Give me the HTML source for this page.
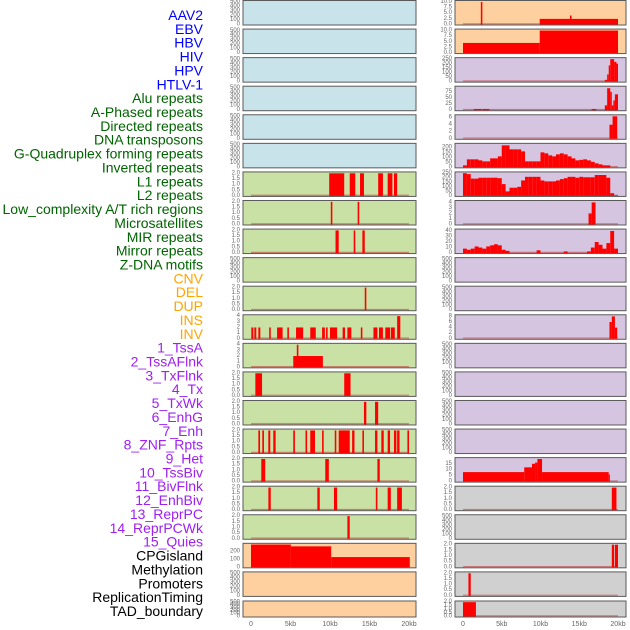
<!DOCTYPE html>
<html><head><meta charset="utf-8">
<style>
html,body{margin:0;padding:0;background:#fff;}
svg{display:block;font-family:"Liberation Sans",sans-serif;}
</style></head>
<body>
<svg id="chart" width="630" height="630" viewBox="0 0 630 630" xmlns="http://www.w3.org/2000/svg">
<g id="labels"></g>
<g id="panels"></g>
<g id="xaxes"></g>
</svg>
<script>
// ---- label data ----
const labelNames = ["AAV2","EBV","HBV","HIV","HPV","HTLV-1","Alu repeats","A-Phased repeats","Directed repeats","DNA transposons","G-Quadruplex forming repeats","Inverted repeats","L1 repeats","L2 repeats","Low_complexity A/T rich regions","Microsatellites","MIR repeats","Mirror repeats","Z-DNA motifs","CNV","DEL","DUP","INS","INV","1_TssA","2_TssAFlnk","3_TxFlnk","4_Tx","5_TxWk","6_EnhG","7_Enh","8_ZNF_Rpts","9_Het","10_TssBiv","11_BivFlnk","12_EnhBiv","13_ReprPC","14_ReprPCWk","15_Quies","CPGisland","Methylation","Promoters","ReplicationTiming","TAD_boundary"];
const labelGroups = [0,0,0,0,0,0,1,1,1,1,1,1,1,1,1,1,1,1,1,2,2,2,2,2,3,3,3,3,3,3,3,3,3,3,3,3,3,3,3,4,4,4,4,4];
const groupColors = ["#0000ff","#006400","#ffa500","#a020f0","#000000"];

// ---- x axis ----
const xTickKb = [0,5,10,15,20];
const xTickLabels = ["0","5kb","10kb","15kb","20kb"];

// ---- left column segments [startKb,endKb,value] ----
const L6 = [[9.9,11.8,2],[12.5,13.2,2],[13.8,14.3,2],[16.1,16.7,2],[17.3,17.9,2],[18.1,18.5,2]];
const L7 = [[10.1,10.3,2],[13.5,13.7,2]];
const L8 = [[10.7,11.1,2],[13.0,13.2,2],[14.1,14.4,2]];
const L10 = [[14.4,14.6,2]];
const L11 = [[0.04,0.3,2],[0.42,0.67,2],[0.93,1.18,2],[2.3,2.5,2],[3.3,4.0,2],[4.6,4.8,2],[5.7,6.6,2],[7.5,8.2,2],[9.0,9.35,2],[9.5,9.7,2],[10.0,10.9,2],[11.6,11.9,2],[12.2,12.7,2],[13.9,14.1,2],[15.5,16.0,2],[16.2,16.7,2],[17.0,17.6,2],[17.7,18.2,2],[18.5,18.9,4]];
const L12 = [[5.35,9.1,2],[5.8,6.0,4]];
const L13 = [[0.55,1.4,2],[11.8,12.6,2]];
const L14 = [[14.3,14.6,2],[15.7,16.1,2]];
const L15 = [[0.93,1.14,2],[1.43,1.64,2],[2.19,2.44,2],[2.82,3.12,2],[5.35,5.56,2],[6.9,7.1,2],[7.5,8.1,2],[9.0,9.2,2],[10.6,10.8,2],[11.1,12.5,2],[12.8,13.1,2],[14.1,14.3,2],[15.7,16.0,2],[16.5,16.8,2],[17.3,17.6,2],[18.1,18.4,2],[18.5,18.8,2],[19.8,20.0,2]];
const L16 = [[1.3,1.8,2],[9.4,9.85,2],[16.0,16.3,2]];
const L17 = [[2.2,2.5,2],[8.4,8.7,2],[10.5,10.9,2],[15.8,16.0,2],[17.3,17.7,2],[18.5,19.1,2]];
const L18 = [[12.2,12.5,2]];
const L19 = [[0,5.05,285],[5.05,10.15,262],[10.15,20.1,128]];

// ---- right column segments ----
const R0 = [[2.3,2.5,10],[9.9,20,2.5],[13.8,14.0,4]];
const R1 = [[0,9.9,4.5],[9.9,20,10]];
const R2 = [[18.3,18.6,20],[18.6,18.8,80],[18.8,19.0,180],[19.0,19.5,250],[19.5,19.8,220],[19.8,20,200]];
const R3 = [[1.4,2.4,5],[2.5,3.4,5],[16.6,17.2,5],[18.3,18.6,20],[18.6,19.0,90],[19.0,19.2,75],[19.2,19.4,20],[19.4,19.6,40],[19.6,20,65]];
const R4 = [[18.9,19.3,4],[19.3,19.9,6.4]];
const R7 = [[16.2,16.6,2],[16.6,17.1,4]];
const R11 = [[18.9,19.2,6],[19.2,19.6,8],[19.6,19.9,4]];
const R16 = [[0,7.9,8],[7.9,8.9,12],[8.9,9.3,15],[9.3,9.6,16],[9.6,10.2,19],[10.2,18.8,8],[18.8,18.95,6]];
const R17 = [[19.2,19.8,2]];
const R19 = [[19.2,19.5,2],[19.6,20,2]];
const R20 = [[0.7,1.0,2]];
const R21 = [[0,1.67,2]];
// binned (0.5 kb) curves
const R5bins = [20,80,80,80,70,60,60,90,90,110,220,220,180,180,180,160,60,60,60,60,150,140,120,110,130,140,130,110,90,70,75,80,70,55,40,30,20,20,0,0];
const R6bins = [250,240,190,190,200,200,200,200,200,195,130,50,90,90,100,170,210,210,210,210,170,160,160,160,170,185,195,210,210,200,210,205,205,205,230,230,230,200,30,5];
const R8bins = [8,6,8,12,10,8,12,14,16,14,6,4,0,0,0,0,0,0,0,5,0,0,0,0,0,0,3,0,0,0,0,0,3,10,20,15,8,18,40,8];

// ---- tick sets ----
const tEmpty = [0,100,200,300,400,500];
const tTwo = [0,0.5,1,1.5,2];
const tFour = [0,1,2,3,4];
const tTen = [0,2.5,5,7.5,10];

function binsToSegs(b){ return b.map(function(v,i){return [i*0.5,i*0.5+0.5,v];}); }

// [segments, ymax, ticks, decimals, bgColor]
const leftCols = ["#c8e4ea","#c8e4ea","#c8e4ea","#c8e4ea","#c8e4ea","#c8e4ea","#c9e1a4","#c9e1a4","#c9e1a4","#c9e1a4","#c9e1a4","#c9e1a4","#c9e1a4","#c9e1a4","#c9e1a4","#c9e1a4","#c9e1a4","#c9e1a4","#c9e1a4","#ffd09f","#ffd09f","#ffd09f"];
const rightCols = ["#ffd09f","#ffd09f","#d6c5e1","#d6c5e1","#d6c5e1","#d6c5e1","#d6c5e1","#d6c5e1","#d6c5e1","#d6c5e1","#d6c5e1","#d6c5e1","#d6c5e1","#d6c5e1","#d6c5e1","#d6c5e1","#d6c5e1","#d0d0d0","#d0d0d0","#d0d0d0","#d0d0d0","#d0d0d0"];
const leftPanels = [
 [[],520,tEmpty,0],[[],520,tEmpty,0],[[],520,tEmpty,0],[[],520,tEmpty,0],[[],520,tEmpty,0],[[],520,tEmpty,0],
 [L6,2.05,tTwo,1],[L7,2.05,tTwo,1],[L8,2.05,tTwo,1],[[],520,tEmpty,0],[L10,2.05,tTwo,1],[L11,4.1,tFour,0],
 [L12,4.1,tFour,0],[L13,2.05,tTwo,1],[L14,2.05,tTwo,1],[L15,2.05,tTwo,1],[L16,2.05,tTwo,1],[L17,2.05,tTwo,1],
 [L18,2.05,tTwo,1],[L19,290,[0,100,200],0],[[],520,tEmpty,0],[[],520,tEmpty,0]
];
const rightPanels = [
 [R0,10.3,tTen,1],[R1,10.3,tTen,1],[R2,258,[0,50,100,150,200,250],0],[R3,95,[0,25,50,75],0],[R4,6.6,[0,2,4,6],0],
 [binsToSegs(R5bins),232,[0,50,100,150,200],0],[binsToSegs(R6bins),255,[0,50,100,150,200,250],0],[R7,4.2,tFour,0],
 [binsToSegs(R8bins),42,[0,10,20,30,40],0],[[],520,tEmpty,0],[[],520,tEmpty,0],[R11,8.3,[0,2,4,6,8],0],
 [[],520,tEmpty,0],[[],520,tEmpty,0],[[],520,tEmpty,0],[[],520,tEmpty,0],[R16,19.5,[0,5,10,15],0],
 [R17,2.05,tTwo,1],[[],520,tEmpty,0],[R19,2.05,tTwo,1],[R20,2.05,tTwo,1],[R21,2.05,tTwo,1]
];

const NS = "http://www.w3.org/2000/svg";
function mk(tag, attrs, parent){ const e=document.createElementNS(NS,tag); for(const k in attrs) e.setAttribute(k,attrs[k]); parent.appendChild(e); return e; }

// labels
const gL = document.getElementById("labels");
labelNames.forEach(function(n,i){
  const t = mk("text",{x:203,y:15+i*13.86,"text-anchor":"end","dominant-baseline":"central","font-size":"14",fill:groupColors[labelGroups[i]]},gL);
  
  
  t.textContent = n;
});

// geometry
const colGeom = [{x0:243,x1:416,kb0:251,kb20:409},{x0:455,x1:626,kb0:463,kb20:618}];
function rowTop(i){ return i<21 ? 0.5+i*28.57 : 601; }
function rowH(i){ return i<21 ? 24.5 : 16; }
const gP = document.getElementById("panels");

function drawPanel(col, i, spec, bg){
  const g = colGeom[col];
  const top = rowTop(i), h = rowH(i);
  const segs = spec[0], ymax = spec[1], ticks = spec[2], dec = spec[3];
  const xs = function(kb){ return g.kb0 + (g.kb20-g.kb0)*kb/20; };
  const y0 = top+h-0.5, y1 = top+0.8;
  const ys = function(v){ return y0 - (y0-y1)*v/ymax; };
  const grp = mk("g",{},gP);
  
  
  const bgR = mk("rect",{x:g.x0,y:top,width:g.x1-g.x0,height:h,fill:bg,stroke:"#5a5a5a","stroke-width":"1"},grp);
  
  
  // baseline
  if(segs.length){
    const bl = mk("line",{x1:xs(0),x2:xs(20),y1:y0-0.7,y2:y0-0.7,stroke:"#c04040","stroke-opacity":"0.6","stroke-width":"1.2"},grp);
    
    
  }
  segs.forEach(function(s){
    if(s[2]<=0) return;
    const xa = xs(s[0]), xb = xs(s[1]);
    const r = mk("rect",{x:xa,y:ys(s[2]),width:Math.max(xb-xa,1.2),height:y0-ys(s[2]),fill:"#ff0000"},grp);
    
    
  });
  ticks.forEach(function(t){
    const tx = mk("text",{x:g.x0-3,y:ys(t),"text-anchor":"end","dominant-baseline":"central","font-size":"6",fill:"#666"},grp);
    
    
    tx.textContent = t.toFixed(dec);
  });
}
leftPanels.forEach(function(p,i){ drawPanel(0,i,p,leftCols[i]); });
rightPanels.forEach(function(p,i){ drawPanel(1,i,p,rightCols[i]); });

// x axes
const gX = document.getElementById("xaxes");
colGeom.forEach(function(g){
  xTickKb.forEach(function(k,j){
    const t = mk("text",{x:g.kb0+(g.kb20-g.kb0)*k/20,y:626,"text-anchor":"middle","font-size":"7",fill:"#666"},gX);
    
    
    t.textContent = xTickLabels[j];
  });
});
</script>
</body></html>
